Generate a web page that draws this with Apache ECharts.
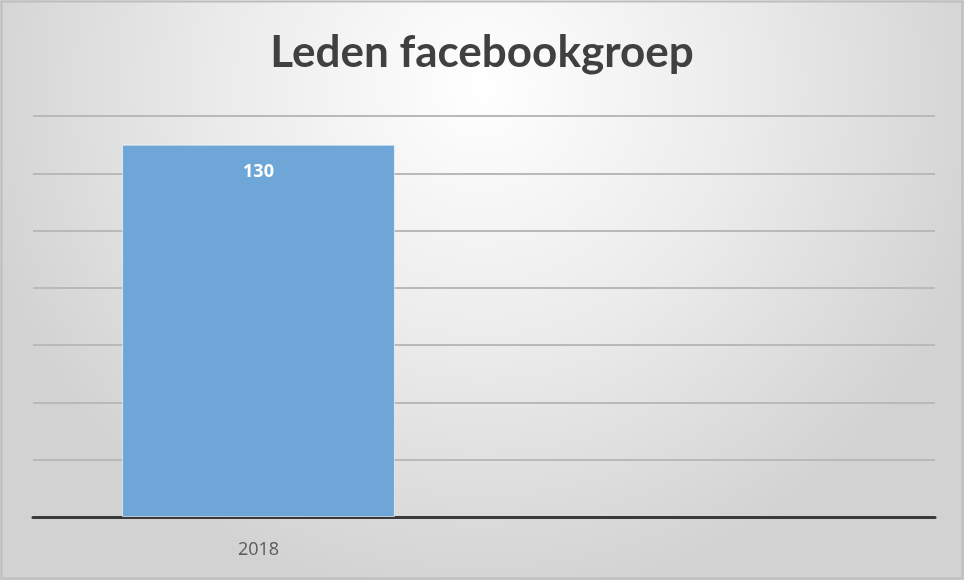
<!DOCTYPE html>
<html><head><meta charset="utf-8">
<script src="https://cdn.jsdelivr.net/npm/echarts@6/dist/echarts.min.js"></script>
<style>html,body{margin:0;padding:0;background:#fff}#c{width:964px;height:580px}</style>
</head><body><div id="c"></div>
<script>
const categories = ['2018', ''];
const values = [130, null];
const titleText = 'Leden facebookgroep';

const chart = echarts.init(document.getElementById('c'), null, {renderer:'canvas'});
chart.setOption({
  backgroundColor: {
    type: 'radial', x: 0.5, y: 0.15, r: 0.9,
    colorStops: [{offset:0,color:'#ffffff'},{offset:0.5,color:'#ebebeb'},{offset:1,color:'#d2d2d2'}]
  },
  title: {
    text: titleText, left: 'center', top: 26,
    textStyle: {fontFamily: 'Lato', fontWeight: 'bold', fontSize: 44, color: '#404040'}
  },
  graphic: [{type:'rect', shape:{x:1.5,y:1.5,width:961,height:577}, style:{fill:'none', stroke:'#bdbdbd', lineWidth:2}, silent:true}],
  grid: {left: 33, right: 29, top: 116, bottom: 63},
  xAxis: {
    type: 'category', data: categories,
    axisLine: {lineStyle: {color: '#3a3a3a', width: 3}},
    axisTick: {show: false},
    axisLabel: {color: '#595959', fontFamily: 'Open Sans', fontSize: 18, margin: 24}
  },
  yAxis: {
    type: 'value', min: 0, max: 140, interval: 20,
    axisLabel: {show: false}, axisLine: {show: false}, axisTick: {show: false},
    splitLine: {lineStyle: {color: '#b9b9b9', width: 2}}
  },
  series: [{
    type: 'bar', data: values, barWidth: '60.5%',
    itemStyle: {color: '#6ea6d8', borderColor: 'rgba(255,255,255,0.6)', borderWidth: 1},
    label: {show: true, position: 'insideTop', distance: 18, color: '#ffffff', fontWeight: 'bold', fontFamily: 'Open Sans', fontSize: 18}
  }]
});
</script></body></html>
